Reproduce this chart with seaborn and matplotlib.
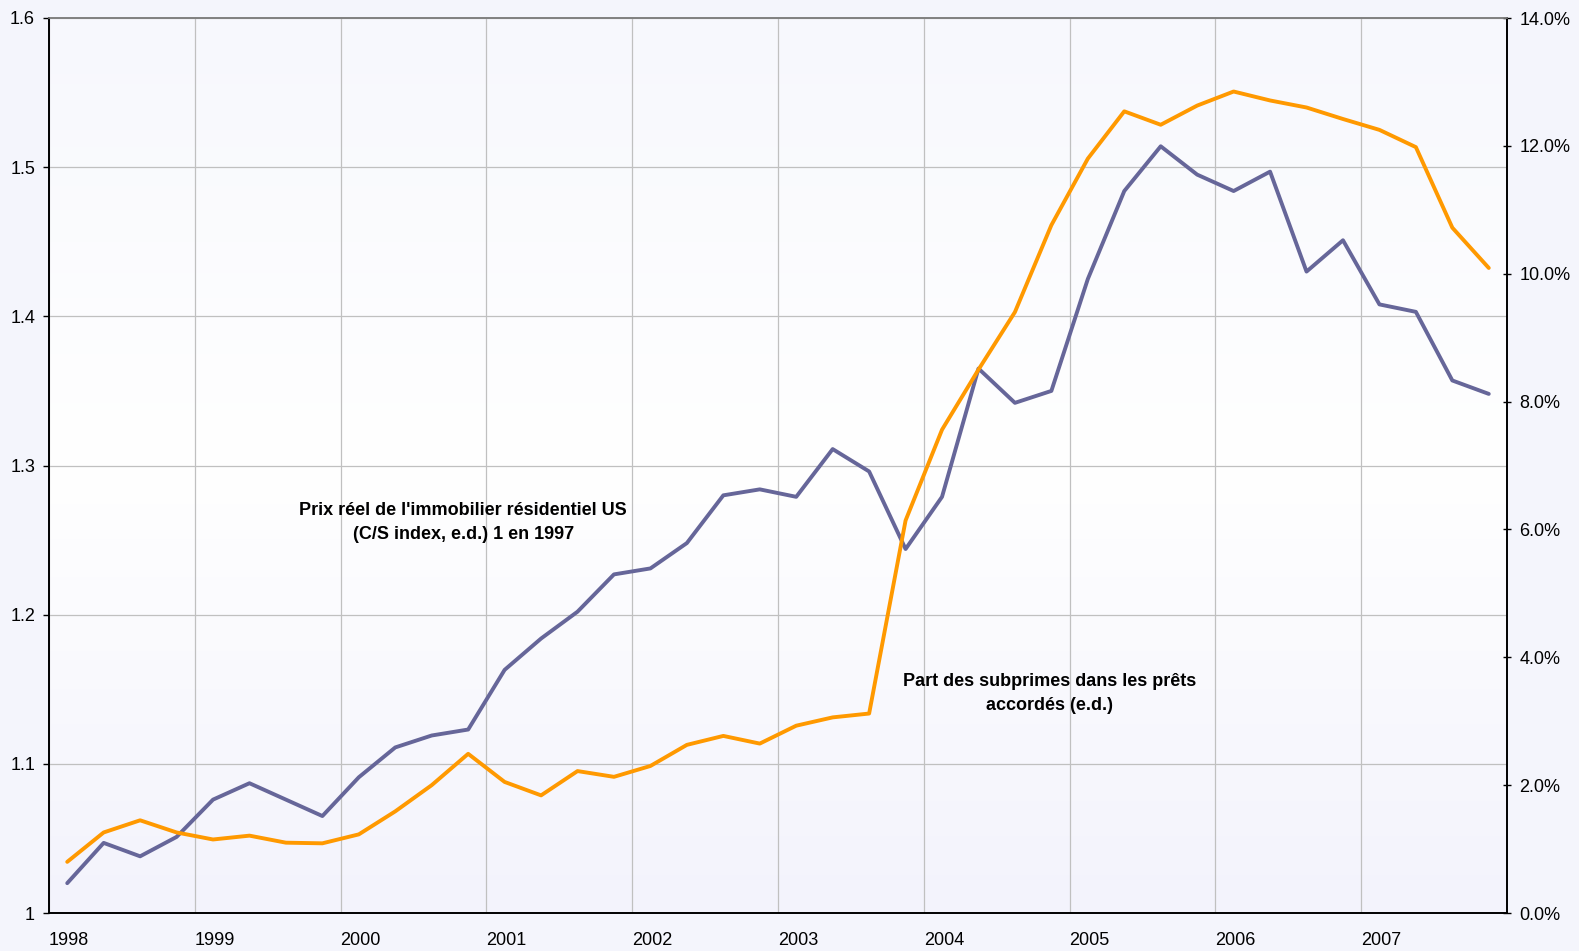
import numpy as np
import pandas as pd
import seaborn as sns
import matplotlib.pyplot as plt
from matplotlib.colors import LinearSegmentedColormap

# quarterly points, 1998Q1 .. 2007Q4 (plotted mid-quarter-ish like the Excel chart)
dates = 1998.125 + 0.25 * np.arange(40)

prix = [1.020, 1.047, 1.038, 1.051, 1.076, 1.087, 1.076, 1.065, 1.091, 1.111,
        1.119, 1.123, 1.163, 1.184, 1.202, 1.227, 1.231, 1.248, 1.280, 1.284,
        1.279, 1.311, 1.296, 1.244, 1.279, 1.365, 1.342, 1.350, 1.425, 1.484,
        1.514, 1.495, 1.484, 1.497, 1.430, 1.451, 1.408, 1.403, 1.357, 1.348]

subprimes = [0.80, 1.26, 1.45, 1.26, 1.15, 1.21, 1.10, 1.09, 1.23, 1.59,
             2.00, 2.49, 2.05, 1.84, 2.22, 2.13, 2.30, 2.63, 2.77, 2.65,
             2.93, 3.06, 3.12, 6.14, 7.56, 8.50, 9.40, 10.76, 11.80, 12.54,
             12.33, 12.63, 12.85, 12.71, 12.60, 12.42, 12.25, 11.98, 10.72, 10.09]

years = list(range(1998, 2008))
label_prix = "Prix réel de l'immobilier résidentiel US\n(C/S index, e.d.) 1 en 1997"
label_sub = "Part des subprimes dans les prêts\naccordés (e.d.)"

df = pd.DataFrame({"date": dates, "prix": prix, "sub": subprimes})

sns.set_style("white")
plt.rcParams['font.family'] = ['Liberation Sans', 'DejaVu Sans']
plt.rcParams['text.color'] = 'black'
plt.rcParams['xtick.color'] = 'black'
plt.rcParams['ytick.color'] = 'black'

fig = plt.figure(figsize=(15.79, 9.51), dpi=100, facecolor="#f4f5fc")
ax = fig.add_axes([49/1579, (951-913)/951, (1507-49)/1579, (913-18)/951])

# background gradient like the Excel plot area
cmap = LinearSegmentedColormap.from_list("bg", ["#f3f3fc", "#ffffff", "#f7f8fd"])
grad = np.linspace(0, 1, 256).reshape(-1, 1)
ax.imshow(grad, aspect="auto", cmap=cmap, origin="lower", extent=[0, 1, 0, 1],
          transform=ax.transAxes, zorder=0)

fs = 13
ax.set_xlim(1998, 2008)
ax.set_ylim(1, 1.6)
ax.set_xticks(years + [2008])
ax.set_xticklabels([str(y) for y in years] + [""], ha="left", fontsize=fs)
ax.set_yticks([1, 1.1, 1.2, 1.3, 1.4, 1.5, 1.6])
ax.set_yticklabels(["1", "1.1", "1.2", "1.3", "1.4", "1.5", "1.6"], fontsize=fs)
ax.grid(True, color="#c0c0c0", linewidth=0.9, zorder=1)
ax.set_axisbelow(True)
ax.tick_params(axis="y", direction="out", length=4, width=1, color="black", labelsize=fs, pad=6)
ax.tick_params(axis="x", direction="out", length=5, width=1, color="black", labelsize=fs, pad=9)

ax2 = ax.twinx()
ax2.set_ylim(0, 14)
ax2.set_yticks(range(0, 15, 2))
ax2.set_yticklabels([f"{v:.1f}%" for v in range(0, 15, 2)], fontsize=fs)
ax2.tick_params(axis="y", direction="inout", length=6, width=1, color="black", labelsize=fs, pad=6)

sns.lineplot(data=df, x="date", y="prix", ax=ax, color="#666699", linewidth=2.8, zorder=3)
sns.lineplot(data=df, x="date", y="sub", ax=ax2, color="#ff9900", linewidth=2.8, zorder=3)
ax.set_xlabel("")
ax.set_ylabel("")
ax2.set_ylabel("")

for a in (ax, ax2):
    for s in ("left", "right", "bottom"):
        a.spines[s].set_color("black")
        a.spines[s].set_linewidth(1.2)
    a.spines["top"].set_color("#808080")
    a.spines["top"].set_linewidth(1.2)

ax.text(2000.84, 1.262, label_prix, ha="center", va="center", fontsize=fs,
        fontweight="bold", linespacing=1.55, color="black", zorder=4)
ax.text(2004.86, 1.147, label_sub, ha="center", va="center", fontsize=fs,
        fontweight="bold", linespacing=1.55, color="black", zorder=4)

fig.savefig("out.png", dpi=100, facecolor=fig.get_facecolor())
